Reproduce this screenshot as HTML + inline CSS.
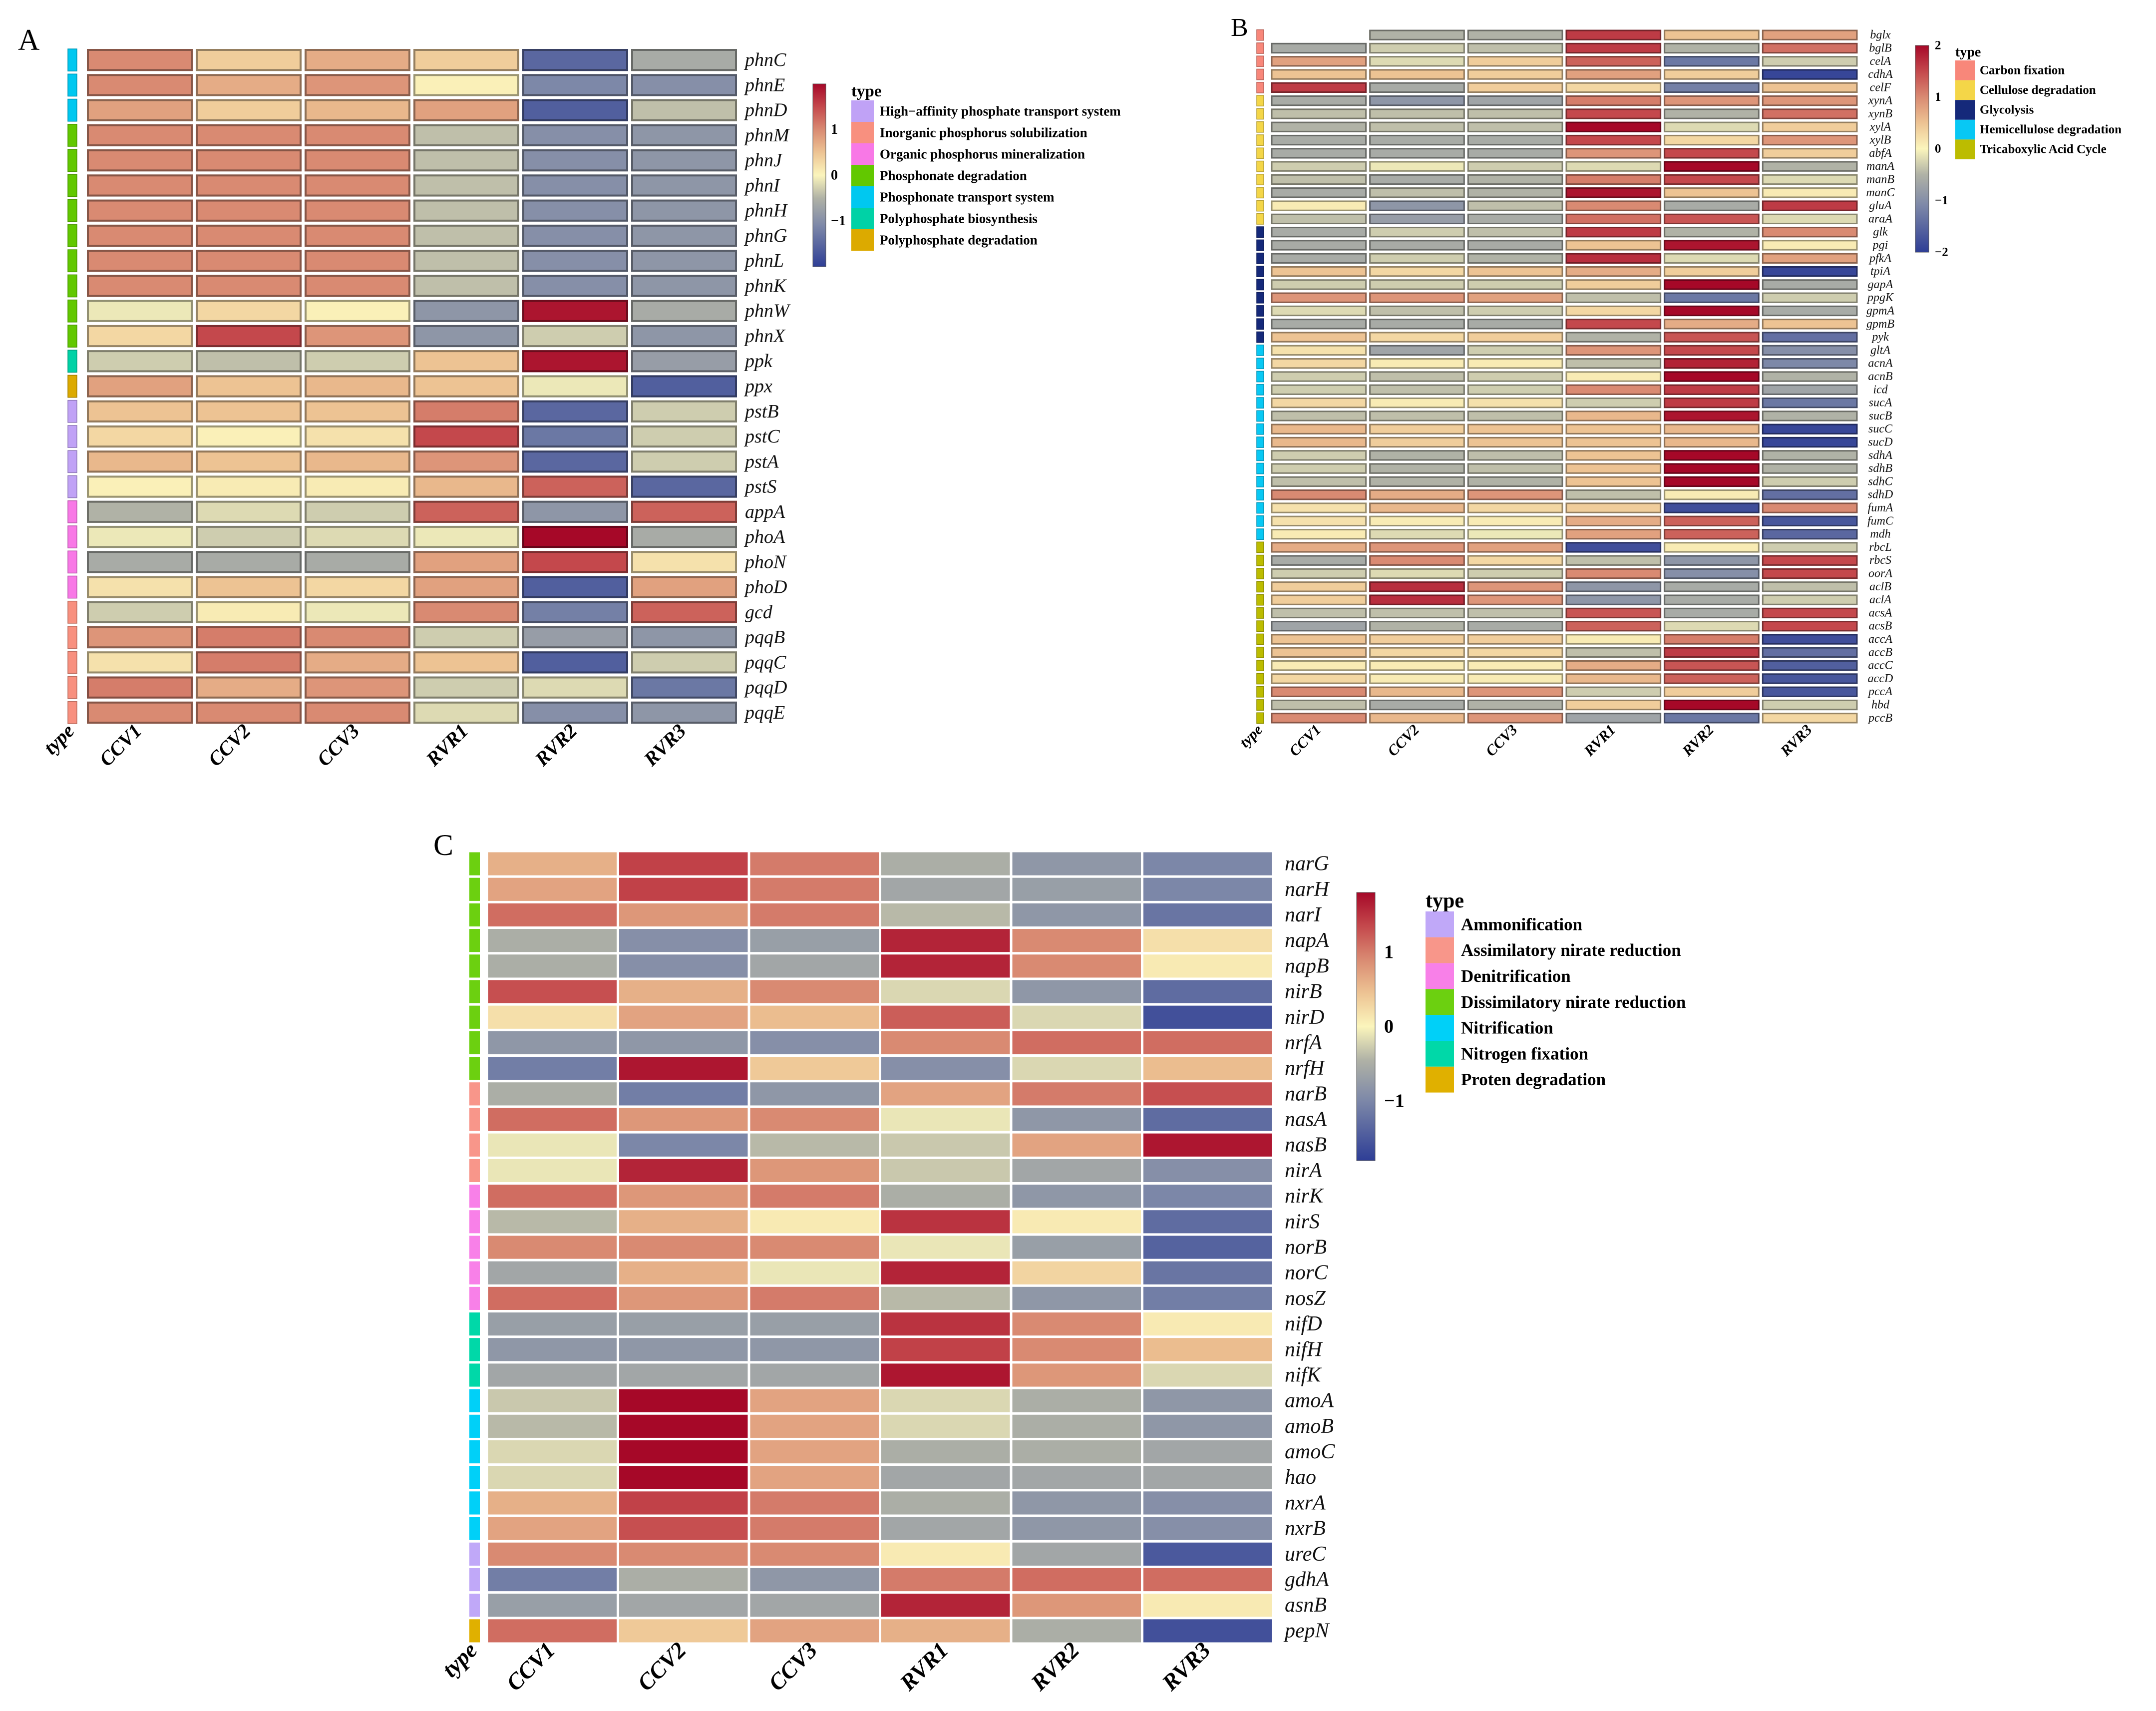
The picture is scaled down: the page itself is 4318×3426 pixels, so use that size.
<!DOCTYPE html>
<html><head><meta charset="utf-8"><title>Functional gene heatmaps</title>
<style>
html,body{margin:0;padding:0;background:#fff;}
svg{display:block;}
text{font-family:"Liberation Serif",serif;}
</style></head>
<body>
<svg id="fig" xmlns="http://www.w3.org/2000/svg" width="4318" height="3426" viewBox="0 0 4318 3426">
<rect x="0" y="0" width="4318" height="3426" fill="#fff"/>
<defs>
<linearGradient id="cmapGrad" x1="0" y1="1" x2="0" y2="0">
<stop offset="0" stop-color="#2e3e96"/><stop offset="0.225" stop-color="#7d88a8"/><stop offset="0.375" stop-color="#b0b2a6"/><stop offset="0.5" stop-color="#fbf5bc"/><stop offset="0.625" stop-color="#edc393"/><stop offset="0.75" stop-color="#d98a72"/><stop offset="0.875" stop-color="#c4484c"/><stop offset="1" stop-color="#a60828"/>
</linearGradient>
</defs>
<g id="panelA"></g>
<g id="panelB"></g>
<g id="panelC"></g>
</svg>
<script>
const samples = ["CCV1","CCV2","CCV3","RVR1","RVR2","RVR3"];

// ---------- Panel A ----------
const aGenes = ["phnC","phnE","phnD","phnM","phnJ","phnI","phnH","phnG","phnL","phnK","phnW","phnX","ppk","ppx","pstB","pstC","pstA","pstS","appA","phoA","phoN","phoD","gcd","pqqB","pqqC","pqqD","pqqE"];
const aTypes = [4,4,4,3,3,3,3,3,3,3,3,3,5,6,0,0,0,0,2,2,2,2,1,1,1,1,1];
const aTypeNames = ["High\u2212affinity phosphate transport system","Inorganic phosphorus solubilization","Organic phosphorus mineralization","Phosphonate degradation","Phosphonate transport system","Polyphosphate biosynthesis","Polyphosphate degradation"];
const aTypeColors = ["#c0a2f6","#f8907f","#f878e6","#62c800","#00c8f0","#00d2a6","#dcaa00"];
const aValues = [
[1.0,0.4,0.7,0.4,-1.5,-0.6],
[1.0,0.7,0.9,0.05,-1.1,-1.0],
[0.8,0.4,0.6,0.8,-1.6,-0.4],
[1.0,1.0,1.0,-0.4,-1.0,-0.9],
[1.0,1.0,1.0,-0.4,-1.0,-0.9],
[1.0,1.0,1.0,-0.4,-1.0,-0.9],
[1.0,1.0,1.0,-0.4,-1.0,-0.9],
[1.0,1.0,1.0,-0.4,-1.0,-0.9],
[1.0,1.0,1.0,-0.4,-1.0,-0.9],
[1.0,1.0,1.0,-0.4,-1.0,-0.9],
[-0.1,0.3,0.05,-0.9,1.9,-0.6],
[0.3,1.5,0.9,-0.9,-0.3,-0.9],
[-0.3,-0.4,-0.3,0.5,1.9,-0.8],
[0.8,0.5,0.6,0.5,-0.1,-1.6],
[0.5,0.5,0.5,1.1,-1.5,-0.3],
[0.3,0.05,0.2,1.5,-1.3,-0.3],
[0.6,0.5,0.6,0.9,-1.5,-0.3],
[0.05,0.1,0.1,0.6,1.3,-1.5],
[-0.5,-0.2,-0.3,1.3,-0.9,1.3],
[-0.1,-0.3,-0.2,-0.1,2.0,-0.6],
[-0.6,-0.6,-0.6,0.8,1.5,0.2],
[0.2,0.5,0.3,0.8,-1.6,0.8],
[-0.3,0.1,-0.1,1.0,-1.2,1.3],
[0.9,1.1,1.0,-0.3,-0.8,-0.9],
[0.2,1.1,0.7,0.5,-1.6,-0.3],
[1.1,0.7,0.9,-0.3,-0.2,-1.3],
[1.0,1.0,1.0,-0.2,-1.0,-0.9]
];
const aTicks = [1,0,-1];

// ---------- Panel B ----------
const bGenes = ["bglx","bglB","celA","cdhA","celF","xynA","xynB","xylA","xylB","abfA","manA","manB","manC","gluA","araA","glk","pgi","pfkA","tpiA","gapA","ppgK","gpmA","gpmB","pyk","gltA","acnA","acnB","icd","sucA","sucB","sucC","sucD","sdhA","sdhB","sdhC","sdhD","fumA","fumC","mdh","rbcL","rbcS","oorA","aclB","aclA","acsA","acsB","accA","accB","accC","accD","pccA","hbd","pccB"];
const bTypes = [0,0,0,0,0,1,1,1,1,1,1,1,1,1,1,2,2,2,2,2,2,2,2,2,3,3,3,3,3,3,3,3,3,3,3,3,3,3,3,4,4,4,4,4,4,4,4,4,4,4,4,4,4];
const bTypeNames = ["Carbon fixation","Cellulose degradation","Glycolysis","Hemicellulose degradation","Tricaboxylic Acid Cycle"];
const bTypeColors = ["#f8877a","#f4d648","#15297a","#08c8f4","#bcbc00"];
const bValues = [
[null,-0.5,-0.5,1.6,0.5,0.8],
[-0.6,-0.3,-0.4,1.6,-0.5,1.2],
[0.8,-0.2,0.4,1.3,-1.3,-0.3],
[0.5,0.5,0.4,0.8,0.4,-1.9],
[1.6,-0.6,0.4,0.3,-1.2,0.5],
[-0.6,-0.9,-0.7,1.1,0.9,0.9],
[-0.4,-0.4,-0.4,1.5,-0.5,1.2],
[-0.5,-0.4,-0.4,2.0,-0.2,0.4],
[-0.6,-0.6,-0.6,1.5,0.3,0.9],
[-0.6,-0.6,-0.6,0.9,1.5,0.4],
[-0.3,-0.1,-0.3,-0.2,2.0,-0.5],
[-0.4,-0.6,-0.5,1.1,1.5,-0.2],
[-0.6,-0.4,-0.5,1.9,0.5,0.1],
[0.1,-0.9,-0.4,1.0,-0.6,1.6],
[-0.4,-0.8,-0.6,1.2,1.4,-0.2],
[-0.6,-0.3,-0.4,1.6,-0.5,1.0],
[-0.6,-0.6,-0.6,0.5,1.9,0.1],
[-0.6,-0.3,-0.5,1.7,-0.2,0.8],
[0.5,0.3,0.5,0.7,0.4,-1.9],
[-0.3,-0.3,-0.3,0.4,2.0,-0.6],
[0.9,0.9,0.8,-0.4,-1.3,-0.3],
[-0.2,-0.4,-0.3,0.3,2.0,-0.6],
[-0.6,-0.6,-0.6,1.5,0.7,0.5],
[0.5,0.3,0.4,-0.5,1.4,-1.4],
[0.2,-0.7,-0.3,0.9,1.5,-1.0],
[0.3,0.1,0.1,-0.4,1.8,-1.1],
[-0.3,-0.4,-0.3,0.1,2.0,-0.5],
[-0.3,-0.4,-0.3,1.0,1.6,-0.7],
[0.3,0.1,0.2,-0.3,1.6,-1.3],
[-0.4,-0.4,-0.4,0.6,1.9,-0.5],
[0.6,0.4,0.5,0.5,0.6,-1.9],
[0.6,0.4,0.5,0.5,0.6,-1.9],
[-0.3,-0.5,-0.4,0.5,2.0,-0.5],
[-0.3,-0.5,-0.4,0.5,2.0,-0.5],
[-0.4,-0.5,-0.5,0.5,2.0,-0.3],
[1.0,0.7,0.9,-0.4,0.1,-1.4],
[0.2,0.6,0.3,0.4,-1.8,1.0],
[0.2,0.1,0.1,0.7,1.3,-1.7],
[0.1,-0.2,-0.1,0.8,1.3,-1.5],
[0.7,0.9,0.8,-1.8,0.1,-0.3],
[-0.6,1.0,0.3,-0.4,-0.9,1.5],
[-0.3,-0.2,-0.3,1.0,-1.0,1.5],
[0.4,1.7,0.9,-0.9,-0.6,-0.4],
[0.4,1.7,0.9,-0.9,-0.6,-0.3],
[-0.4,-0.4,-0.4,1.4,-0.6,1.5],
[-0.7,-0.5,-0.6,1.3,-0.2,1.5],
[0.5,0.4,0.4,0.1,1.1,-1.8],
[0.5,0.3,0.3,-0.4,1.6,-1.4],
[0.1,0.1,0.1,0.7,1.4,-1.6],
[0.3,0.1,0.1,0.6,1.3,-1.7],
[1.0,0.6,0.9,-0.3,0.4,-1.7],
[-0.4,-0.6,-0.5,0.4,2.0,-0.3],
[1.0,0.6,0.9,-0.7,-1.3,0.3]
];
const bTicks = [2,1,0,-1,-2];

// ---------- Panel C ----------
const cGenes = ["narG","narH","narI","napA","napB","nirB","nirD","nrfA","nrfH","narB","nasA","nasB","nirA","nirK","nirS","norB","norC","nosZ","nifD","nifH","nifK","amoA","amoB","amoC","hao","nxrA","nxrB","ureC","gdhA","asnB","pepN"];
const cTypes = [3,3,3,3,3,3,3,3,3,1,1,1,1,2,2,2,2,2,5,5,5,4,4,4,4,4,4,0,0,0,6];
const cTypeNames = ["Ammonification","Assimilatory nirate reduction","Denitrification","Dissimilatory nirate reduction","Nitrification","Nitrogen fixation","Proten degradation"];
const cTypeColors = ["#c0a8f8","#f8968a","#f880e8","#6cd010","#00d0f8","#00d8a8","#e0b000"];
const cValues = [
[0.6,1.4,1.0,-0.5,-0.8,-1.0],
[0.7,1.4,1.0,-0.6,-0.7,-1.0],
[1.1,0.8,1.0,-0.4,-0.8,-1.2],
[-0.5,-0.9,-0.7,1.6,0.9,0.2],
[-0.5,-0.9,-0.6,1.6,0.9,0.1],
[1.3,0.6,0.9,-0.2,-0.8,-1.3],
[0.2,0.7,0.5,1.2,-0.2,-1.6],
[-0.8,-0.8,-0.9,0.9,1.1,1.1],
[-1.1,1.7,0.4,-0.9,-0.2,0.5],
[-0.5,-1.1,-0.8,0.7,1.0,1.3],
[1.1,0.8,0.9,-0.1,-0.8,-1.3],
[-0.1,-1.0,-0.4,-0.3,0.7,1.7],
[-0.1,1.6,0.8,-0.3,-0.6,-0.9],
[1.1,0.8,1.0,-0.5,-0.8,-1.0],
[-0.4,0.6,0.1,1.5,0.1,-1.3],
[0.9,0.9,0.9,-0.1,-0.7,-1.4],
[-0.6,0.6,-0.1,1.6,0.3,-1.2],
[1.1,0.8,1.0,-0.4,-0.8,-1.1],
[-0.7,-0.7,-0.7,1.5,0.9,0.1],
[-0.8,-0.8,-0.8,1.4,0.9,0.5],
[-0.6,-0.6,-0.6,1.7,0.8,-0.2],
[-0.3,1.8,0.7,-0.2,-0.5,-0.8],
[-0.4,1.8,0.7,-0.2,-0.5,-0.8],
[-0.2,1.8,0.7,-0.5,-0.5,-0.6],
[-0.2,1.8,0.7,-0.6,-0.6,-0.6],
[0.6,1.4,1.0,-0.5,-0.8,-0.9],
[0.7,1.3,1.0,-0.6,-0.8,-0.9],
[0.9,0.9,0.9,0.1,-0.6,-1.5],
[-1.1,-0.5,-0.8,1.0,1.1,1.1],
[-0.7,-0.6,-0.6,1.6,0.8,0.1],
[1.1,0.4,0.7,0.6,-0.5,-1.6]
];
const cTicks = [1,0,-1];

// ---------- colour scale ----------
const cmapT = [-1,-0.55,-0.25,0,0.25,0.5,0.75,1];
const cmapC = ["#2e3e96","#7d88a8","#b0b2a6","#fbf5bc","#edc393","#d98a72","#c4484c","#a60828"];
function hex2rgb(h){return [parseInt(h.slice(1,3),16),parseInt(h.slice(3,5),16),parseInt(h.slice(5,7),16)];}
function colorFor(v,max){
  let t=Math.max(-1,Math.min(1,v/max));
  for(let i=0;i<cmapT.length-1;i++){
    if(t<=cmapT[i+1]){
      const f=(t-cmapT[i])/(cmapT[i+1]-cmapT[i]);
      const a=hex2rgb(cmapC[i]),b=hex2rgb(cmapC[i+1]);
      return 'rgb('+a.map((x,k)=>Math.round(x+(b[k]-x)*f)).join(',')+')';
    }
  }
  return cmapC[cmapC.length-1];
}
function darken(c,f){
  let rgb=c.startsWith('#')?hex2rgb(c):c.match(/\d+/g).map(Number);
  return 'rgb('+rgb.map(x=>Math.round(x*f)).join(',')+')';
}
const NS='http://www.w3.org/2000/svg';
function mk(parent,tag,attrs,txt){
  const e=document.createElementNS(NS,tag);
  for(const k in attrs)e.setAttribute(k,attrs[k]);
  if(txt!==undefined)e.textContent=txt;
  parent.appendChild(e);return e;
}

function drawPanel(g,genes,values,types,typeNames,typeColors,ticks,G){
  const nR=genes.length,nC=samples.length;
  const cw=(G.x1-G.x0)/nC, rh=(G.y1-G.y0)/nR;
  const xS=j=>G.x0+j*cw, yS=i=>G.y0+i*rh;
  // panel letter
  const pl=mk(g,'text',{x:G.lx,y:G.ly,'font-size':G.lfs,fill:'#000'},G.letter);
  
  
  for(let i=0;i<nR;i++){
    const tb=mk(g,'rect',{x:G.tx0,y:yS(i)+G.gap/2,width:G.tx1-G.tx0,height:rh-G.gap,fill:typeColors[types[i]],stroke:G.border?darken(typeColors[types[i]],0.75):'none','stroke-width':G.border?1.5:0});
    
    
    for(let j=0;j<nC;j++){
      const v=values[i][j];
      if(v===null||v===undefined)continue;
      const col=colorFor(v,G.max);
      const bw=G.border;
      const r=mk(g,'rect',{x:xS(j)+G.gap/2+bw/2,y:yS(i)+G.gap/2+bw/2,width:cw-G.gap-bw,height:rh-G.gap-bw,fill:col,stroke:bw?darken(col,0.62):'none','stroke-width':bw});
      
      
    }
    const gl=mk(g,'text',{x:G.gx,y:yS(i)+rh/2,'font-size':G.gfs,'font-style':'italic','dominant-baseline':'central','text-anchor':G.ganchor,fill:'#111'},genes[i]);
    
    
  }
  // column labels
  for(let j=0;j<nC;j++){
    const cx=xS(j)+cw/2+G.cdx, cy=G.y1+G.cdy;
    const t=mk(g,'text',{x:cx,y:cy,'font-size':G.cfs,'font-weight':'bold','font-style':'italic','text-anchor':'end',transform:'rotate(-45 '+cx+' '+cy+')',fill:'#000'},samples[j]);
    
    
  }
  const tcx=(G.tx0+G.tx1)/2+G.cdx, tcy=G.y1+G.cdy;
  const tl=mk(g,'text',{x:tcx,y:tcy,'font-size':G.cfs,'font-weight':'bold','font-style':'italic','text-anchor':'end',transform:'rotate(-45 '+tcx+' '+tcy+')',fill:'#000'},'type');
  
  
  // colorbar
  const cb=mk(g,'rect',{x:G.cbx,y:G.cby0,width:G.cbw,height:G.cby1-G.cby0,fill:'url(#cmapGrad)',stroke:'#555','stroke-width':1});
  
  
  const cbMid=(G.cby0+G.cby1)/2, cbHalf=(G.cby1-G.cby0)/2;
  for(const tk of ticks){
    const ty=cbMid-tk/G.max*cbHalf;
    const t=mk(g,'text',{x:G.cbx+G.cbw+G.cblx,y:ty,'font-size':G.cbfs,'font-weight':'bold','dominant-baseline':'central',fill:'#000'},tk<0?'\u2212'+Math.abs(tk):String(tk));
    
    
  }
  // type legend
  const lt=mk(g,'text',{x:G.legx,y:G.legy-8,'font-size':G.legtfs,'font-weight':'bold',fill:'#000'},'type');
  
  
  for(let k=0;k<typeNames.length;k++){
    const sy=G.legy+k*G.legh;
    const sw=mk(g,'rect',{x:G.legx,y:sy,width:G.legw,height:G.legh,fill:typeColors[k]});
    
    
    const lx=mk(g,'text',{x:G.legx+G.legw+G.legtx,y:sy+G.legh/2,'font-size':G.legfs,'font-weight':'bold','dominant-baseline':'central',fill:'#000'},typeNames[k]);
    
    
  }
}

drawPanel(document.getElementById('panelA'),aGenes,aValues,aTypes,aTypeNames,aTypeColors,aTicks,{
  letter:'A',lx:36,ly:100,lfs:60,
  x0:171,x1:1479,y0:95,y1:1452,gap:6,border:4,max:2,
  tx0:136,tx1:154,gx:1492,gfs:38,ganchor:'start',
  cdx:6,cdy:14,cfs:40,
  cbx:1628,cbw:26,cby0:168,cby1:534,cblx:10,cbfs:28,
  legx:1705,legy:201,legh:43,legw:45,legtx:12,legfs:27,legtfs:33
});
drawPanel(document.getElementById('panelB'),bGenes,bValues,bTypes,bTypeNames,bTypeColors,bTicks,{
  letter:'B',lx:2465,ly:72,lfs:52,
  x0:2543,x1:3723,y0:57,y1:1451,gap:5,border:3,max:2,
  tx0:2517,tx1:2531,gx:3766,gfs:24,ganchor:'middle',
  cdx:6,cdy:12,cfs:30,
  cbx:3836,cbw:27,cby0:91,cby1:505,cblx:12,cbfs:25,
  legx:3916,legy:121,legh:39.6,legw:40,legtx:9,legfs:25,legtfs:28
});
drawPanel(document.getElementById('panelC'),cGenes,cValues,cTypes,cTypeNames,cTypeColors,cTicks,{
  letter:'C',lx:868,ly:1712,lfs:60,
  x0:975,x1:2550,y0:1704,y1:3291,gap:5,border:0,max:1.8,
  tx0:940,tx1:961,gx:2573,gfs:42,ganchor:'start',
  cdx:8,cdy:16,cfs:46,
  cbx:2717,cbw:37,cby0:1787,cby1:2324,cblx:18,cbfs:38,
  legx:2855,legy:1825,legh:51.8,legw:57,legtx:14,legfs:35,legtfs:42
});
</script>
</body></html>
